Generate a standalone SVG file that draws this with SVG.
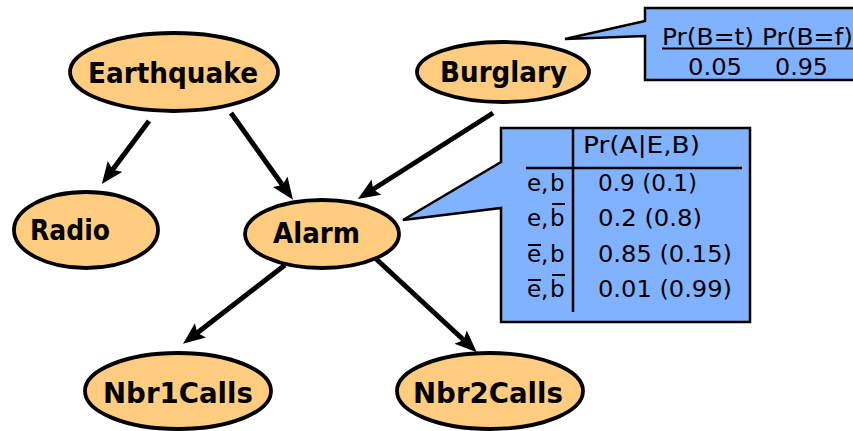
<svg xmlns="http://www.w3.org/2000/svg" width="853" height="431" viewBox="0 0 853 431">
<style>
.node ellipse{fill:#FFCC80;stroke:#000;stroke-width:3.8}
.node text{font-family:"DejaVu Sans",sans-serif;font-weight:bold;font-size:29px;fill:#000}
.edge{stroke:#000;stroke-width:5;fill:none;marker-end:url(#ah)}
.cpt path.box{fill:#80B2FF;stroke:#000;stroke-width:2.5}
.cpt text{font-family:"DejaVu Sans",sans-serif;font-size:23px;fill:#000}
.rule{stroke:#000;stroke-width:2.5}
.ov{stroke:#000;stroke-width:2}
</style>
<defs>
<marker id="ah" markerUnits="userSpaceOnUse" markerWidth="24" markerHeight="20" refX="10" refY="9" orient="auto" viewBox="0 0 24 20">
<path d="M0,0 L22,9 L0,18 L4,9 Z" fill="#000"/>
</marker>
</defs>
<g id="connectors">
<line class="edge" x1="149" y1="121" x2="109" y2="174.5"/>
<line class="edge" x1="231" y1="113" x2="286" y2="190"/>
<line class="edge" x1="493" y1="113" x2="368" y2="192.5"/>
<line class="edge" x1="285" y1="265" x2="192.5" y2="336.5"/>
<line class="edge" x1="374" y1="257" x2="468" y2="344"/>
</g>
<g id="earthquake" class="node">
<ellipse cx="174" cy="72" rx="104" ry="39"/>
<text x="88" y="83" textLength="170" lengthAdjust="spacingAndGlyphs">Earthquake</text>
</g>
<g id="burglary" class="node">
<ellipse cx="503" cy="72" rx="86" ry="30"/>
<text x="440" y="82" textLength="127" lengthAdjust="spacingAndGlyphs">Burglary</text>
</g>
<g id="radio" class="node">
<ellipse cx="86" cy="230" rx="72" ry="38"/>
<text x="30" y="240" textLength="80" lengthAdjust="spacingAndGlyphs">Radio</text>
</g>
<g id="alarm" class="node">
<ellipse cx="322" cy="234" rx="77" ry="34"/>
<text x="273" y="243" textLength="87" lengthAdjust="spacingAndGlyphs">Alarm</text>
</g>
<g id="nbr1calls" class="node">
<ellipse cx="178" cy="391" rx="93" ry="38"/>
<text x="103" y="403" textLength="150" lengthAdjust="spacingAndGlyphs">Nbr1Calls</text>
</g>
<g id="nbr2calls" class="node">
<ellipse cx="490" cy="391" rx="93" ry="38"/>
<text x="413" y="403" textLength="150" lengthAdjust="spacingAndGlyphs">Nbr2Calls</text>
</g>
<g id="cpt-burglary" class="cpt">
<path class="box" d="M565,39 L645,21 L645,8 L860,8 L860,80 L645,80 L645,36 Z"/>
<text x="662" y="45" textLength="191" lengthAdjust="spacingAndGlyphs">Pr(B=t) Pr(B=f)</text>
<line class="ov" x1="662" y1="48.5" x2="860" y2="48.5"/>
<text x="688" y="75" textLength="54" lengthAdjust="spacingAndGlyphs">0.05</text>
<text x="775" y="75" textLength="53" lengthAdjust="spacingAndGlyphs">0.95</text>
</g>
<g id="cpt-alarm" class="cpt">
<path class="box" d="M403,220 L501,162 L501,128 L750,128 L750,322 L501,322 L501,208 Z"/>
<line class="rule" x1="573" y1="128" x2="573" y2="312"/>
<line class="rule" x1="526" y1="168" x2="742" y2="168"/>
<text x="583" y="153" textLength="117" lengthAdjust="spacingAndGlyphs">Pr(A|E,B)</text>
<text x="527" y="191">e</text><text x="541" y="191">,</text><text x="550" y="191">b</text>
<text x="527" y="226">e</text><text x="541" y="226">,</text><text x="550" y="226">b</text>
<line class="ov" x1="552" y1="204" x2="565" y2="204"/>
<text x="527" y="262">e</text><text x="541" y="262">,</text><text x="550" y="262">b</text>
<line class="ov" x1="528" y1="245" x2="541" y2="245"/>
<text x="527" y="297">e</text><text x="541" y="297">,</text><text x="550" y="297">b</text>
<line class="ov" x1="528" y1="280" x2="541" y2="280"/>
<line class="ov" x1="552" y1="275" x2="565" y2="275"/>
<text x="598" y="191" textLength="99" lengthAdjust="spacingAndGlyphs">0.9 (0.1)</text>
<text x="598" y="226" textLength="104" lengthAdjust="spacingAndGlyphs">0.2 (0.8)</text>
<text x="598" y="262" textLength="134" lengthAdjust="spacingAndGlyphs">0.85 (0.15)</text>
<text x="598" y="297" textLength="134" lengthAdjust="spacingAndGlyphs">0.01 (0.99)</text>
</g>
</svg>
